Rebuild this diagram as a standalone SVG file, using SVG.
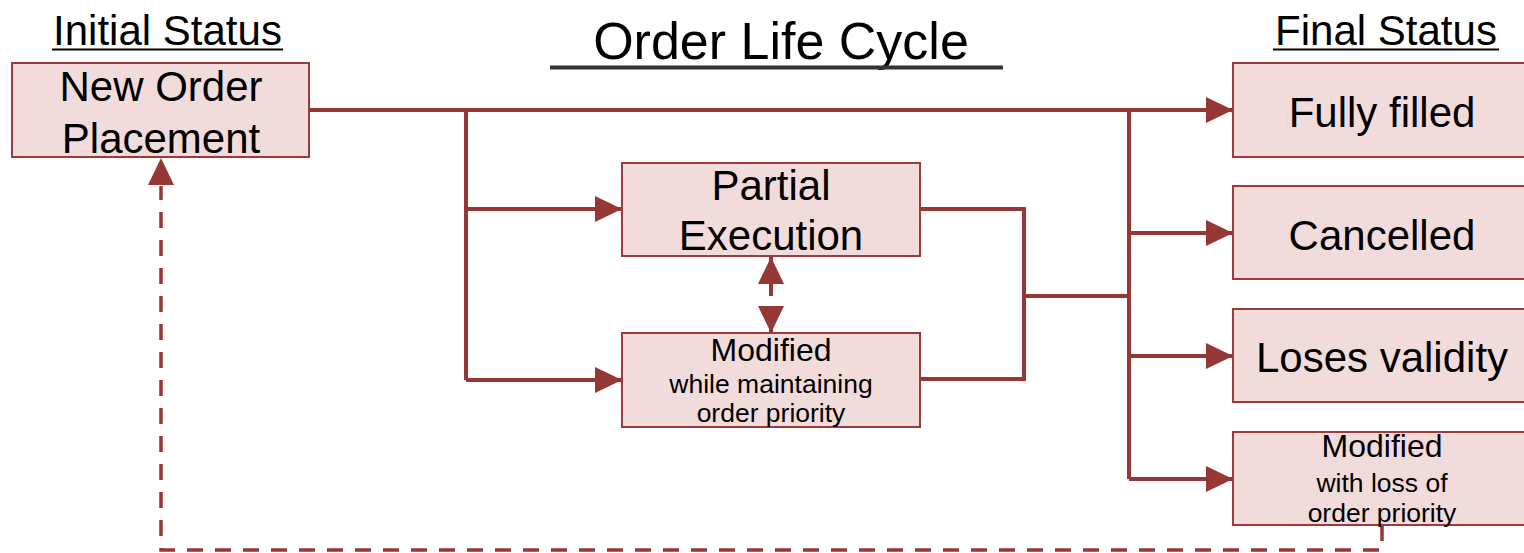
<svg xmlns="http://www.w3.org/2000/svg" width="1524" height="553" viewBox="0 0 1524 553">
<style>
.box{fill:#f2dcdb;stroke:#9b3b3a;stroke-width:2}
.t{font-family:"Liberation Sans",Arial,sans-serif;fill:#000;text-anchor:middle}
.big{font-size:42px}
.mid{font-size:32px}
.sm{font-size:26.5px}
.hd{font-size:42px;text-decoration:underline}
.ln{fill:none;stroke:#953735;stroke-width:4}
.dash{fill:none;stroke:#953735;stroke-width:3.5;stroke-dasharray:16 12}
</style>
<defs>
<marker id="ah" markerUnits="userSpaceOnUse" markerWidth="28" markerHeight="28" refX="27" refY="13" orient="auto">
<path d="M0,0 L27,13 L0,26 Z" fill="#953735"/>
</marker>
</defs>
<rect x="0" y="0" width="1524" height="553" fill="#fff"/>
<g id="headers">
<text class="t" x="167.5" y="45" font-size="42" style="font-size:42px">Initial Status</text>
<line x1="52" y1="49.5" x2="283" y2="49.5" stroke="#000" stroke-width="2"/>
<text class="t" x="1386" y="45" style="font-size:42px">Final Status</text>
<line x1="1273" y1="49.5" x2="1499" y2="49.5" stroke="#000" stroke-width="2"/>
<text class="t" x="781" y="59" style="font-size:52px">Order Life Cycle</text>
<line x1="550" y1="67.5" x2="1003" y2="67.5" stroke="#333" stroke-width="4"/>
</g>
<g id="connectors">
<path class="ln" d="M309,110 H1233" marker-end="url(#ah)"/>
<path class="ln" d="M466,110 V380"/>
<path class="ln" d="M466,209 H622" marker-end="url(#ah)"/>
<path class="ln" d="M466,380 H622" marker-end="url(#ah)"/>
<path class="ln" d="M920,209 H1024 V379 H920"/>
<path class="ln" d="M1024,296 H1129"/>
<path class="ln" d="M1129,110 V479"/>
<path class="ln" d="M1129,233 H1233" marker-end="url(#ah)"/>
<path class="ln" d="M1129,356 H1233" marker-end="url(#ah)"/>
<path class="ln" d="M1129,479 H1233" marker-end="url(#ah)"/>
<path class="ln" d="M771,296 V257" marker-end="url(#ah)"/>
<path class="ln" d="M771,306 V333" marker-end="url(#ah)"/>
<path class="dash" d="M1382,525 V550 H161 V186"/>
<path d="M148,185 L161,158 L174,185 Z" fill="#953735"/>
</g>
<g id="node-new">
<rect class="box" x="12" y="63" width="297" height="94"/>
<text class="t big" x="161" y="101">New Order</text>
<text class="t big" x="161" y="153">Placement</text>
</g>
<g id="node-partial">
<rect class="box" x="622" y="163" width="298" height="93"/>
<text class="t big" x="771" y="200">Partial</text>
<text class="t big" x="771" y="250">Execution</text>
</g>
<g id="node-modified-keep">
<rect class="box" x="622" y="333" width="298" height="94"/>
<text class="t mid" x="771" y="361">Modified</text>
<text class="t sm" x="771" y="393">while maintaining</text>
<text class="t sm" x="771" y="422">order priority</text>
</g>
<g id="node-filled">
<rect class="box" x="1233" y="63" width="298" height="94"/>
<text class="t big" x="1382" y="127">Fully filled</text>
</g>
<g id="node-cancelled">
<rect class="box" x="1233" y="186" width="298" height="93"/>
<text class="t big" x="1382" y="250">Cancelled</text>
</g>
<g id="node-validity">
<rect class="box" x="1233" y="309" width="298" height="93"/>
<text class="t big" x="1382" y="372">Loses validity</text>
</g>
<g id="node-modified-loss">
<rect class="box" x="1233" y="432" width="298" height="93"/>
<text class="t mid" x="1382" y="457">Modified</text>
<text class="t sm" x="1382" y="492">with loss of</text>
<text class="t sm" x="1382" y="522">order priority</text>
</g>
</svg>
